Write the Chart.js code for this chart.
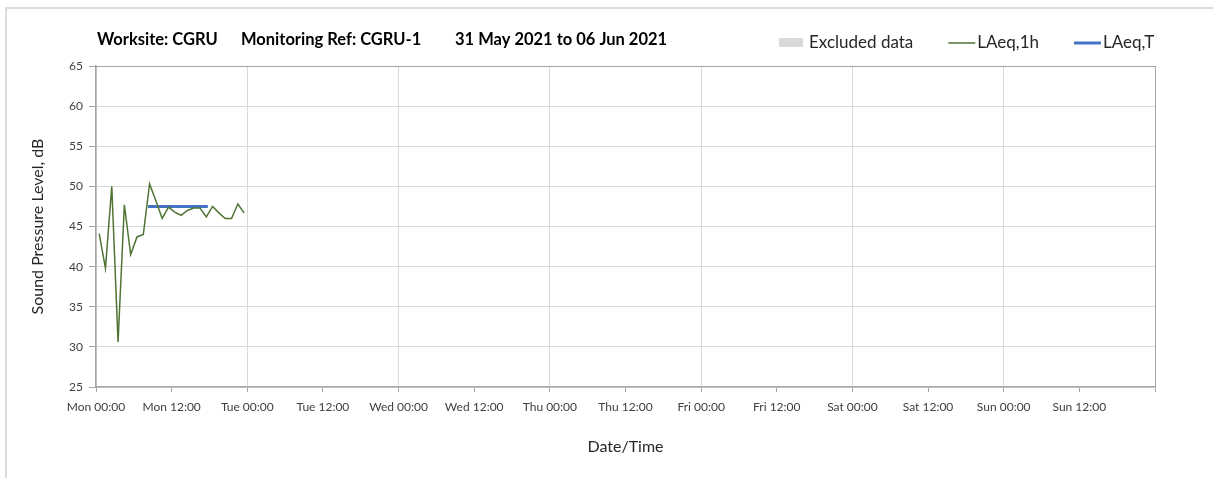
<!DOCTYPE html>
<html>
<head>
<meta charset="utf-8">
<title>Sound Pressure Level – CGRU-1</title>
<script src="https://cdn.jsdelivr.net/npm/chart.js@4/dist/chart.umd.min.js"></script>
<style>
  html, body { margin: 0; padding: 0; background: #fff; }
  #wrap { position: relative; width: 1213px; height: 478px; }
  #frame { position: absolute; left: 5px; top: 7px; right: 0; bottom: 0;
           border-left: 2px solid #dcdcdc; border-top: 2px solid #dcdcdc; }
  canvas { position: absolute; left: 0; top: 0; }
</style>
</head>
<body>
<div id="wrap">
  <div id="frame"></div>
  <canvas id="grafico" width="1213" height="478"></canvas>
</div>
<script>
// hours from Mon 00:00, one LAeq,1h value per hour
const hours = [0.5, 1.5, 2.5, 3.5, 4.5, 5.5, 6.5, 7.5, 8.5, 9.5, 10.5, 11.5,
               12.5, 13.5, 14.5, 15.5, 16.5, 17.5, 18.5, 19.5, 20.5, 21.5, 22.5, 23.5];
const laeq1h = [44.1, 39.8, 50.0, 30.6, 47.7, 41.5, 43.7, 44.0, 50.3, 48.2, 46.0, 47.4,
                46.8, 46.4, 47.0, 47.3, 47.3, 46.2, 47.5, 46.7, 46.0, 46.0, 47.8, 46.7];

// daytime period average
const laeqTHours = [8.5, 17.5];
const laeqTLevel = [47.5, 47.5];

const xTicks = [0, 12, 24, 36, 48, 60, 72, 84, 96, 108, 120, 132, 144, 156, 168];
const tickLabels = ['Mon 00:00', 'Mon 12:00', 'Tue 00:00', 'Tue 12:00', 'Wed 00:00', 'Wed 12:00',
                    'Thu 00:00', 'Thu 12:00', 'Fri 00:00', 'Fri 12:00', 'Sat 00:00', 'Sat 12:00',
                    'Sun 00:00', 'Sun 12:00', ''];

const titleParts = ['Worksite: CGRU', 'Monitoring Ref: CGRU-1', '31 May 2021 to 06 Jun 2021'];

const FONT = 'Lato, "Noto Sans", sans-serif';
const GREEN = '#4f7434';
const BLUE = '#4472c4';
const GRID = '#d9d9d9';
const AXIS = '#a6a6a6';

// heading + legend row above the plot
const headerPlugin = {
  id: 'header',
  afterDraw(chart) {
    const ctx = chart.ctx;
    ctx.save();
    ctx.fillStyle = '#000';
    ctx.textBaseline = 'middle';
    ctx.font = 'bold 16.5px ' + FONT;
    const titleX = [97, 241, 455];
    titleParts.forEach((t, i) => ctx.fillText(t, titleX[i], 40));

    ctx.font = '17px ' + FONT;
    let x = 779;
    const y = 43;
    chart.data.datasets.forEach(ds => {
      if (ds.type === 'bar') {
        ctx.fillStyle = ds.backgroundColor;
        ctx.fillRect(x, y - 5, 24, 9);
        x += 30;
      } else {
        ctx.strokeStyle = ds.borderColor;
        ctx.lineWidth = ds.borderWidth;
        ctx.beginPath();
        ctx.moveTo(x, y);
        ctx.lineTo(x + 27, y);
        ctx.stroke();
        x += 29;
      }
      ctx.fillStyle = '#262626';
      ctx.fillText(ds.label, x, y);
      x += ctx.measureText(ds.label).width + 35;
    });
    ctx.restore();
  }
};

const ctx = document.getElementById('grafico').getContext('2d');

new Chart(ctx, {
  data: {
    datasets: [{
      type: 'bar',
      label: 'Excluded data',
      data: [],
      backgroundColor: '#d9d9d9'
    }, {
      type: 'line',
      label: 'LAeq,1h',
      data: hours.map((h, i) => ({ x: h, y: laeq1h[i] })),
      borderColor: GREEN,
      borderWidth: 1.5,
      pointRadius: 0,
      tension: 0
    }, {
      type: 'line',
      label: 'LAeq,T',
      data: laeqTHours.map((h, i) => ({ x: h, y: laeqTLevel[i] })),
      borderColor: BLUE,
      borderWidth: 3,
      borderCapStyle: 'square',
      pointRadius: 0
    }]
  },
  options: {
    responsive: false,
    animation: false,
    layout: { padding: { top: 66, right: 58, left: 0, bottom: 0 } },
    plugins: {
      legend: { display: false },
      tooltip: { enabled: false }
    },
    scales: {
      x: {
        type: 'linear',
        min: 0,
        max: 168,
        offset: false,
        afterBuildTicks: scale => { scale.ticks = xTicks.map(v => ({ value: v })); },
        afterFit: scale => { scale.height = 91; },
        ticks: {
          autoSkip: false,
          maxRotation: 0,
          padding: 8,
          color: '#404040',
          font: { family: FONT, size: 12 },
          callback: v => tickLabels[xTicks.indexOf(v)]
        },
        grid: {
          offset: false,
          color: c => c.tick && c.tick.value === 168 ? AXIS : (c.tick && c.tick.value % 24 === 0 ? GRID : 'rgba(0,0,0,0)'),
          tickColor: AXIS,
          tickLength: 5,
          lineWidth: 1
        },
        border: { color: AXIS, width: 1.5 },
        title: {
          display: true,
          text: 'Date/Time',
          color: '#262626',
          font: { family: FONT, size: 16 },
          padding: { top: 0, bottom: 22 }
        }
      },
      y: {
        min: 25,
        max: 65,
        afterFit: scale => { scale.width = 96; },
        ticks: {
          stepSize: 5,
          padding: 6,
          color: '#404040',
          font: { family: FONT, size: 12 }
        },
        grid: {
          color: c => c.tick && c.tick.value === 65 ? AXIS : GRID,
          tickColor: AXIS,
          tickLength: 7,
          lineWidth: 1
        },
        border: { color: AXIS, width: 1.5 },
        title: {
          display: true,
          text: 'Sound Pressure Level, dB',
          color: '#262626',
          font: { family: FONT, size: 16 },
          padding: { top: 28, bottom: 0 }
        }
      }
    }
  },
  plugins: [headerPlugin]
});
</script>
</body>
</html>
